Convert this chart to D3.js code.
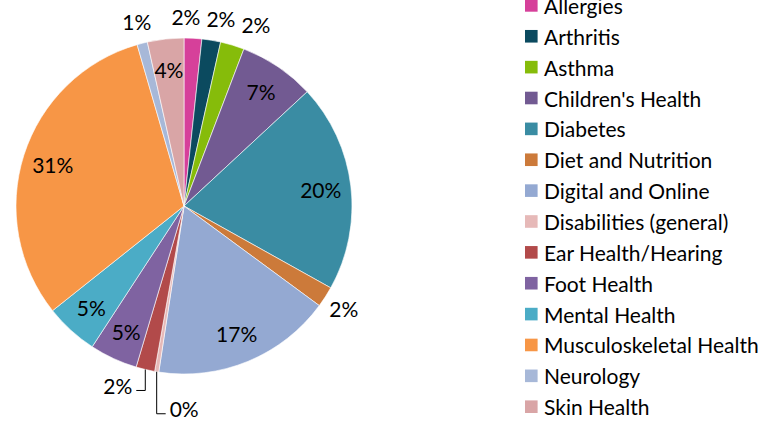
<!DOCTYPE html>
<html>
<head>
<meta charset="utf-8">
<script src="https://cdn.jsdelivr.net/npm/d3@7"></script>
<style>
  html, body { margin: 0; padding: 0; background: #fff; }
  svg { display: block; font-family: Lato, "Open Sans", sans-serif; }
</style>
</head>
<body>
<svg width="771" height="422"></svg>
<script>
// categories, clockwise from 12 o'clock
const categories = [
  "Allergies", "Arthritis", "Asthma", "Children's Health", "Diabetes",
  "Diet and Nutrition", "Digital and Online", "Disabilities (general)",
  "Ear Health/Hearing", "Foot Health", "Mental Health",
  "Musculoskeletal Health", "Neurology", "Skin Health"
];
// share of total, %
const values = [1.7, 1.8, 2.3, 7.3, 20.0, 2.0, 17.3, 0.4, 1.8, 4.6, 5.1, 31.2, 1.0, 3.5];
const colors = [
  "#d6409a", "#0b4a5f", "#86bc0a", "#725a92", "#3a8ca3", "#cc7a3a", "#94a9d2",
  "#e6b9b8", "#b24a4a", "#7f63a1", "#4bacc6", "#f79646", "#a7b8d8", "#d9a5a6"
];
// where the label goes: in = inside slice, out = outside, lead = with elbow line
const labelMode = ["out", "out", "out", "in", "in", "out", "in", "lead", "lead", "in", "in", "in", "out", "in"];

const svg = d3.select("svg");
const cx = 184, cy = 206, R = 168;
const fontSize = 21;

const pie = d3.pie().sort(null).value(d => d)(values);
const arc = d3.arc().innerRadius(0).outerRadius(R);

const g = svg.append("g").attr("transform", `translate(${cx},${cy})`);

g.selectAll("path.slice")
  .data(pie)
  .enter().append("path")
  .attr("class", "slice")
  .attr("d", arc)
  .attr("fill", (d, i) => colors[i])
  .attr("stroke", "#fff")
  .attr("stroke-width", 0.6);

const total = d3.sum(values);
const pct = v => Math.round(v / total * 100) + "%";
const mid = d => (d.startAngle + d.endAngle) / 2;
const polar = (a, r) => [Math.sin(a) * r, -Math.cos(a) * r];

// label positions
const labels = pie.map((d, i) => {
  const a = mid(d);
  const mode = labelMode[i];
  const p = mode === "in" ? polar(a, 0.82 * R) : polar(a, 190);
  return { i, a, mode, x: p[0], y: p[1], text: pct(d.value) };
});

// spread the outside labels that crowd each other near the top
const outs = labels.filter(l => l.mode === "out" && l.y < -150 && l.x > 0).sort((a, b) => a.x - b.x);
for (let k = 0; k < 20; k++) {
  for (let j = 1; j < outs.length; j++) {
    const gap = outs[j].x - outs[j - 1].x;
    if (gap < 35) {
      const push = (35 - gap) / 2;
      outs[j].x += push;
      outs[j - 1].x -= push;
    }
  }
}
outs.forEach(l => l.x += 5);

// elbow leaders for the tiny slices at the bottom
const leaderDrop = { 7: 42, 8: 21 };
const leaderSide = { 7: 1, 8: -1 };
labels.filter(l => l.mode === "lead").forEach(l => {
  const [x0, y0] = polar(l.a, R);
  const y1 = y0 + leaderDrop[l.i];
  const x1 = x0 + leaderSide[l.i] * 9;
  g.append("path")
    .attr("d", d3.line()([[x0, y0], [x0, y1], [x1, y1]]))
    .attr("fill", "none")
    .attr("stroke", "#000")
    .attr("stroke-width", 1);
  l.x = x1 + leaderSide[l.i] * 4;
  l.y = y1 - 5;
  l.anchor = leaderSide[l.i] > 0 ? "start" : "end";
});

g.selectAll("text.lbl")
  .data(labels)
  .enter().append("text")
  .attr("class", "lbl")
  .attr("x", d => d.x)
  .attr("y", d => d.y)
  .attr("text-anchor", d => d.anchor || "middle")
  .attr("dominant-baseline", "central")
  .attr("font-size", fontSize)
  .attr("fill", "#000")
  .text(d => d.text);

// legend
const ly = d3.scaleLinear().domain([0, categories.length - 1]).range([5.4, 406.7]);
const legend = svg.append("g");
const item = legend.selectAll("g")
  .data(categories)
  .enter().append("g")
  .attr("transform", (d, i) => `translate(525,${ly(i)})`);

item.append("rect")
  .attr("x", 0).attr("y", -6.3)
  .attr("width", 12.6).attr("height", 12.6)
  .attr("fill", (d, i) => colors[i]);

item.append("text")
  .attr("x", 19)
  .attr("y", 0)
  .attr("dominant-baseline", "central")
  .attr("font-size", fontSize)
  .attr("fill", "#000")
  .text(d => d);
</script>
</body>
</html>
